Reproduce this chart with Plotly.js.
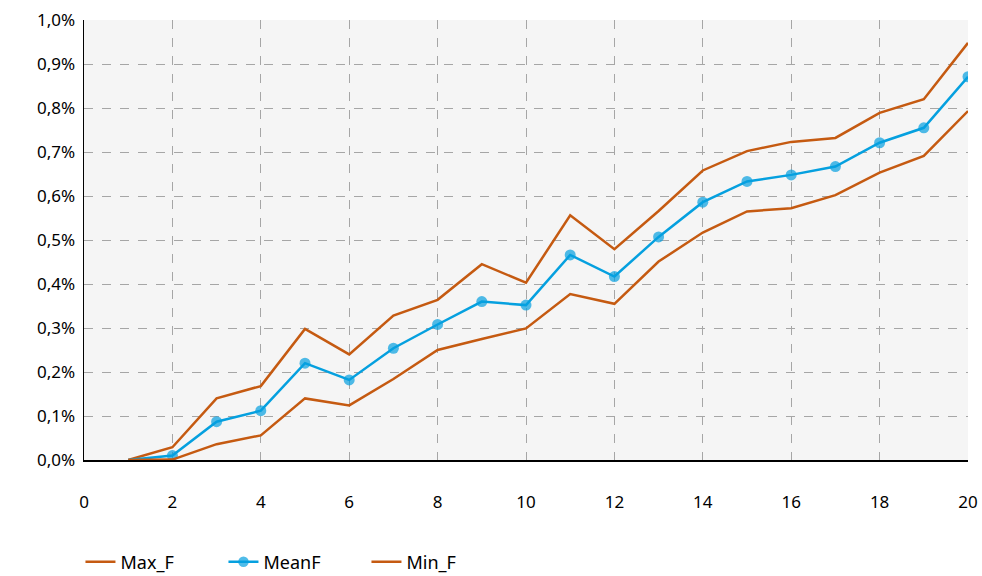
<!DOCTYPE html>
<html>
<head>
<meta charset="utf-8">
<script src="https://cdn.plot.ly/plotly-3.0.1.min.js"></script>
<style>html,body{margin:0;padding:0;background:#fff;}#chart{width:982px;height:576px;}</style>
</head>
<body>
<div id="chart"></div>
<script>
const xValues = [1,2,3,4,5,6,7,8,9,10,11,12,13,14,15,16,17,18,19,20];
const maxF  = [0, 0.029, 0.140, 0.168, 0.298, 0.240, 0.328, 0.364, 0.445, 0.403, 0.556, 0.479, 0.566, 0.658, 0.702, 0.723, 0.732, 0.789, 0.820, 0.948];
const meanF = [0, 0.010, 0.087, 0.112, 0.220, 0.182, 0.254, 0.308, 0.360, 0.352, 0.466, 0.417, 0.507, 0.586, 0.633, 0.648, 0.667, 0.721, 0.755, 0.871];
const minF  = [0, 0.001, 0.036, 0.056, 0.140, 0.124, 0.184, 0.250, 0.275, 0.299, 0.377, 0.355, 0.451, 0.517, 0.565, 0.572, 0.602, 0.653, 0.691, 0.793];
const seriesNames = ['Max_F', 'MeanF', 'Min_F'];

const orange = '#C55A11';
const blue = '#05A0DF';
const font = 'Noto Sans, Open Sans, DejaVu Sans, sans-serif';

// first point of MeanF has no visible marker in the reference
const meanMarkerSizes = xValues.map((x, i) => (i === 0 ? 0 : 11));

const traces = [
  {x: xValues, y: maxF, name: seriesNames[0], mode: 'lines', line: {color: orange, width: 2.5}},
  {x: xValues, y: meanF, name: seriesNames[1], mode: 'lines+markers', line: {color: blue, width: 2.5}, marker: {color: blue, size: meanMarkerSizes, line: {width: 0}}},
  {x: xValues, y: minF, name: seriesNames[2], mode: 'lines', line: {color: orange, width: 2.5}}
];

const layout = {
  width: 982, height: 576,
  margin: {l: 84, r: 14, t: 20, b: 116, autoexpand: false},
  paper_bgcolor: '#ffffff',
  plot_bgcolor: '#f5f5f5',
  separators: ',.',
  font: {family: font, size: 17, color: '#000'},
  showlegend: true,
  legend: {orientation: 'h', x: -0.004, xanchor: 'left', y: -0.19, yanchor: 'top',
           font: {family: font, size: 18, color: '#000'}, itemwidth: 30, entrywidth: 98, tracegroupgap: 0},
  xaxis: {
    range: [0, 20], dtick: 2, tick0: 0,
    showgrid: true, gridcolor: '#a6a6a6', griddash: 'dash', gridwidth: 1,
    showline: true, linecolor: '#000', linewidth: 1.5,
    zeroline: false, ticks: '', ticklabelstandoff: 26,
    tickfont: {family: font, size: 17, color: '#000'}
  },
  yaxis: {
    range: [0, 1.0], dtick: 0.1, tick0: 0,
    tickformat: '.1f', ticksuffix: '%',
    showgrid: true, gridcolor: '#a6a6a6', griddash: 'dash', gridwidth: 1,
    showline: true, linecolor: '#000', linewidth: 1.5,
    zeroline: false, ticks: '', ticklabelstandoff: 4,
    tickfont: {family: font, size: 17, color: '#000'}
  }
};

Plotly.newPlot('chart', traces, layout, {displayModeBar: false, staticPlot: true});
</script>
</body>
</html>
